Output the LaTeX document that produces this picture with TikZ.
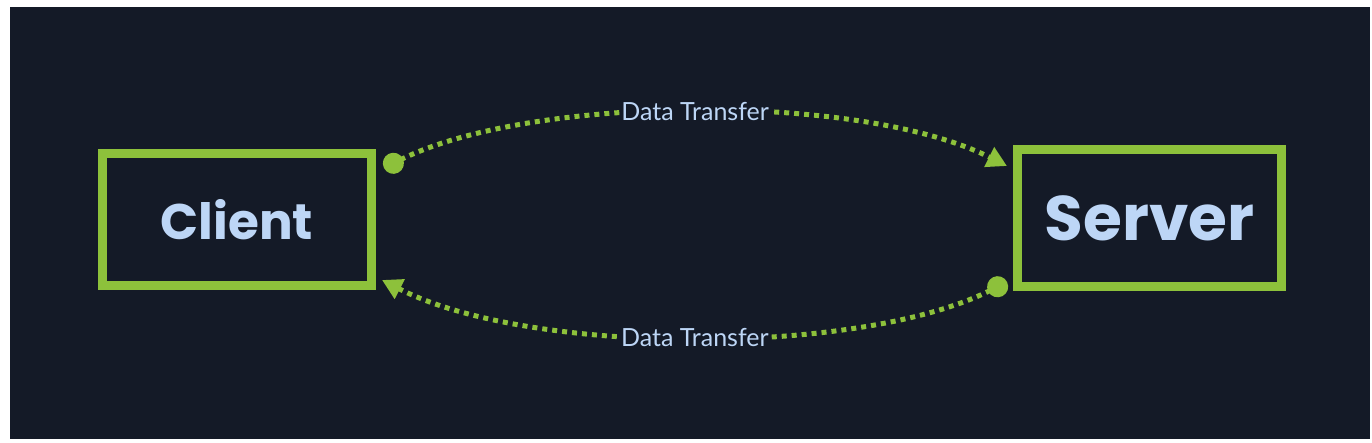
\documentclass[tikz,border=0pt]{standalone}
\usepackage{fontspec}
\setmainfont{Lato}
\newfontfamily\boxfont{Poppins}
\usetikzlibrary{arrows.meta}
\definecolor{bgdark}{HTML}{141A27}
\definecolor{lime}{HTML}{8DC13B}
\definecolor{paleblue}{HTML}{BDD6F6}
\tikzset{
  box/.style={draw=lime, line width=9pt, fill=bgdark, inner sep=0pt, text=paleblue},
  flow/.style={draw=lime, line width=5pt, dash pattern=on 5pt off 5pt,
    {Circle[length=21pt,fill=lime]}-{Triangle[length=20pt,width=21pt,fill=lime]}},
  lbl/.style={fill=bgdark, text=paleblue, font=\fontsize{25}{28}\selectfont, inner sep=1.5pt}
}
\begin{document}
\begin{tikzpicture}[x=1pt,y=-1pt]
\useasboundingbox (0,0) rectangle (1372,442);
\fill[white] (0,0) rectangle (1372,442);
\fill[bgdark] (10,7) rectangle (1370,439);
\node[box, minimum width=269pt, minimum height=132pt,
  font=\boxfont\bfseries\fontsize{50}{56}\selectfont] (client) at (237,219.5) {Client};
\node[box, minimum width=264pt, minimum height=137pt,
  font=\boxfont\bfseries\fontsize{63}{70}\selectfont] (server) at (1149.5,218) {Server};
\coordinate (ts) at (384,168);
\coordinate (te) at (1007,166);
\coordinate (bs) at (1007,282);
\coordinate (be) at (382,280);
\draw[flow] (ts) .. controls (530,95) and (860,92) .. node[lbl] (l1) {Data Transfer} (te);
\draw[flow] (bs) .. controls (860,356) and (530,356) .. node[lbl] (l2) {Data Transfer} (be);
\end{tikzpicture}
\end{document}
